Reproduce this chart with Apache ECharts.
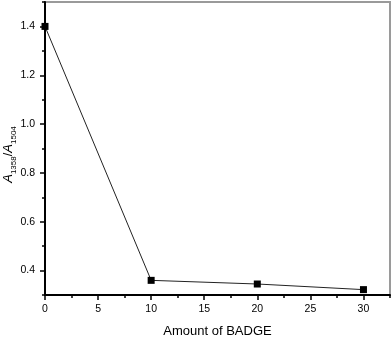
<!DOCTYPE html>
<html>
<head>
<meta charset="utf-8">
<script src="https://cdn.jsdelivr.net/npm/echarts@6/dist/echarts.min.js"></script>
<style>html,body{margin:0;padding:0;background:#fff}#c{width:392px;height:338px}</style>
</head>
<body>
<div id="c"></div>
<script>
var xValues = [0, 10, 20, 30];
var yValues = [1.40, 0.36, 0.345, 0.322];
var xMajorTicks = [0, 5, 10, 15, 20, 25, 30];
var xMinorTicks = [2.5, 7.5, 12.5, 17.5, 22.5, 27.5, 32.5];
var yMajorTicks = [0.4, 0.6, 0.8, 1.0, 1.2, 1.4];
var yMinorTicks = [0.3, 0.5, 0.7, 0.9, 1.1, 1.3, 1.5];
var xTitle = 'Amount of BADGE';

var chart = echarts.init(document.getElementById('c'));
var font = 'Liberation Sans, Arial, sans-serif';
var data = xValues.map(function (x, i) { return [x, yValues[i]]; });
chart.setOption({
  animation: false,
  grid: { left: 45, right: 2, top: 2, bottom: 43, show: true, borderColor: '#9a9a9a', borderWidth: 2, containLabel: false, outerBoundsMode: 'none' },
  xAxis: [{
    type: 'value', min: 0, max: 32.5, position: 'bottom',
    splitLine: { show: false },
    axisLine: { show: true, onZero: false, lineStyle: { color: '#000', width: 2 } },
    axisTick: { show: true, inside: false, length: 5, customValues: xMajorTicks, lineStyle: { color: '#000', width: 1.5 } },
    axisLabel: { customValues: xMajorTicks, margin: 9, fontSize: 10.5, color: '#000', fontFamily: font, formatter: function (v) { return String(v); } },
    name: xTitle, nameLocation: 'middle', nameGap: 30, nameMoveOverlap: false,
    nameTextStyle: { fontSize: 13, color: '#000', fontFamily: font }
  }, {
    type: 'value', min: 0, max: 32.5, position: 'bottom', gridIndex: 0,
    splitLine: { show: false },
    axisLine: { show: false },
    axisTick: { show: true, length: 3, customValues: xMinorTicks, lineStyle: { color: '#000', width: 1.5 } },
    axisLabel: { show: false }
  }],
  yAxis: [{
    type: 'value', min: 0.3, max: 1.5, position: 'left',
    splitLine: { show: false },
    axisLine: { show: true, onZero: false, lineStyle: { color: '#000', width: 2 } },
    axisTick: { show: true, length: 5, customValues: yMajorTicks, lineStyle: { color: '#000', width: 1.5 } },
    axisLabel: { customValues: yMajorTicks, margin: 10, fontSize: 10.5, color: '#000', fontFamily: font, formatter: function (v) { return v.toFixed(1); } },
    name: '{i|A}{s|1358}{n|/}{i|A}{s|1504}', nameLocation: 'middle', nameGap: 30, nameMoveOverlap: false,
    nameTextStyle: {
      padding: [0, 12, 0, 0],
      rich: {
        i: { fontSize: 13, fontStyle: 'italic', color: '#000', fontFamily: font, verticalAlign: 'bottom', lineHeight: 15 },
        n: { fontSize: 13, color: '#000', fontFamily: font, verticalAlign: 'bottom', lineHeight: 15 },
        s: { fontSize: 8, color: '#000', fontFamily: font, verticalAlign: 'bottom', lineHeight: 10, padding: [0, 0, -3, 0] }
      }
    }
  }, {
    type: 'value', min: 0.3, max: 1.5, position: 'left', gridIndex: 0,
    splitLine: { show: false },
    axisLine: { show: false },
    axisTick: { show: true, length: 3, customValues: yMinorTicks, lineStyle: { color: '#000', width: 1.5 } },
    axisLabel: { show: false }
  }],
  series: [{
    type: 'line', data: data, xAxisIndex: 0, yAxisIndex: 0,
    symbol: 'rect', symbolSize: 7,
    lineStyle: { color: '#222', width: 1 },
    itemStyle: { color: '#000' }
  }]
});
</script>
</body>
</html>
